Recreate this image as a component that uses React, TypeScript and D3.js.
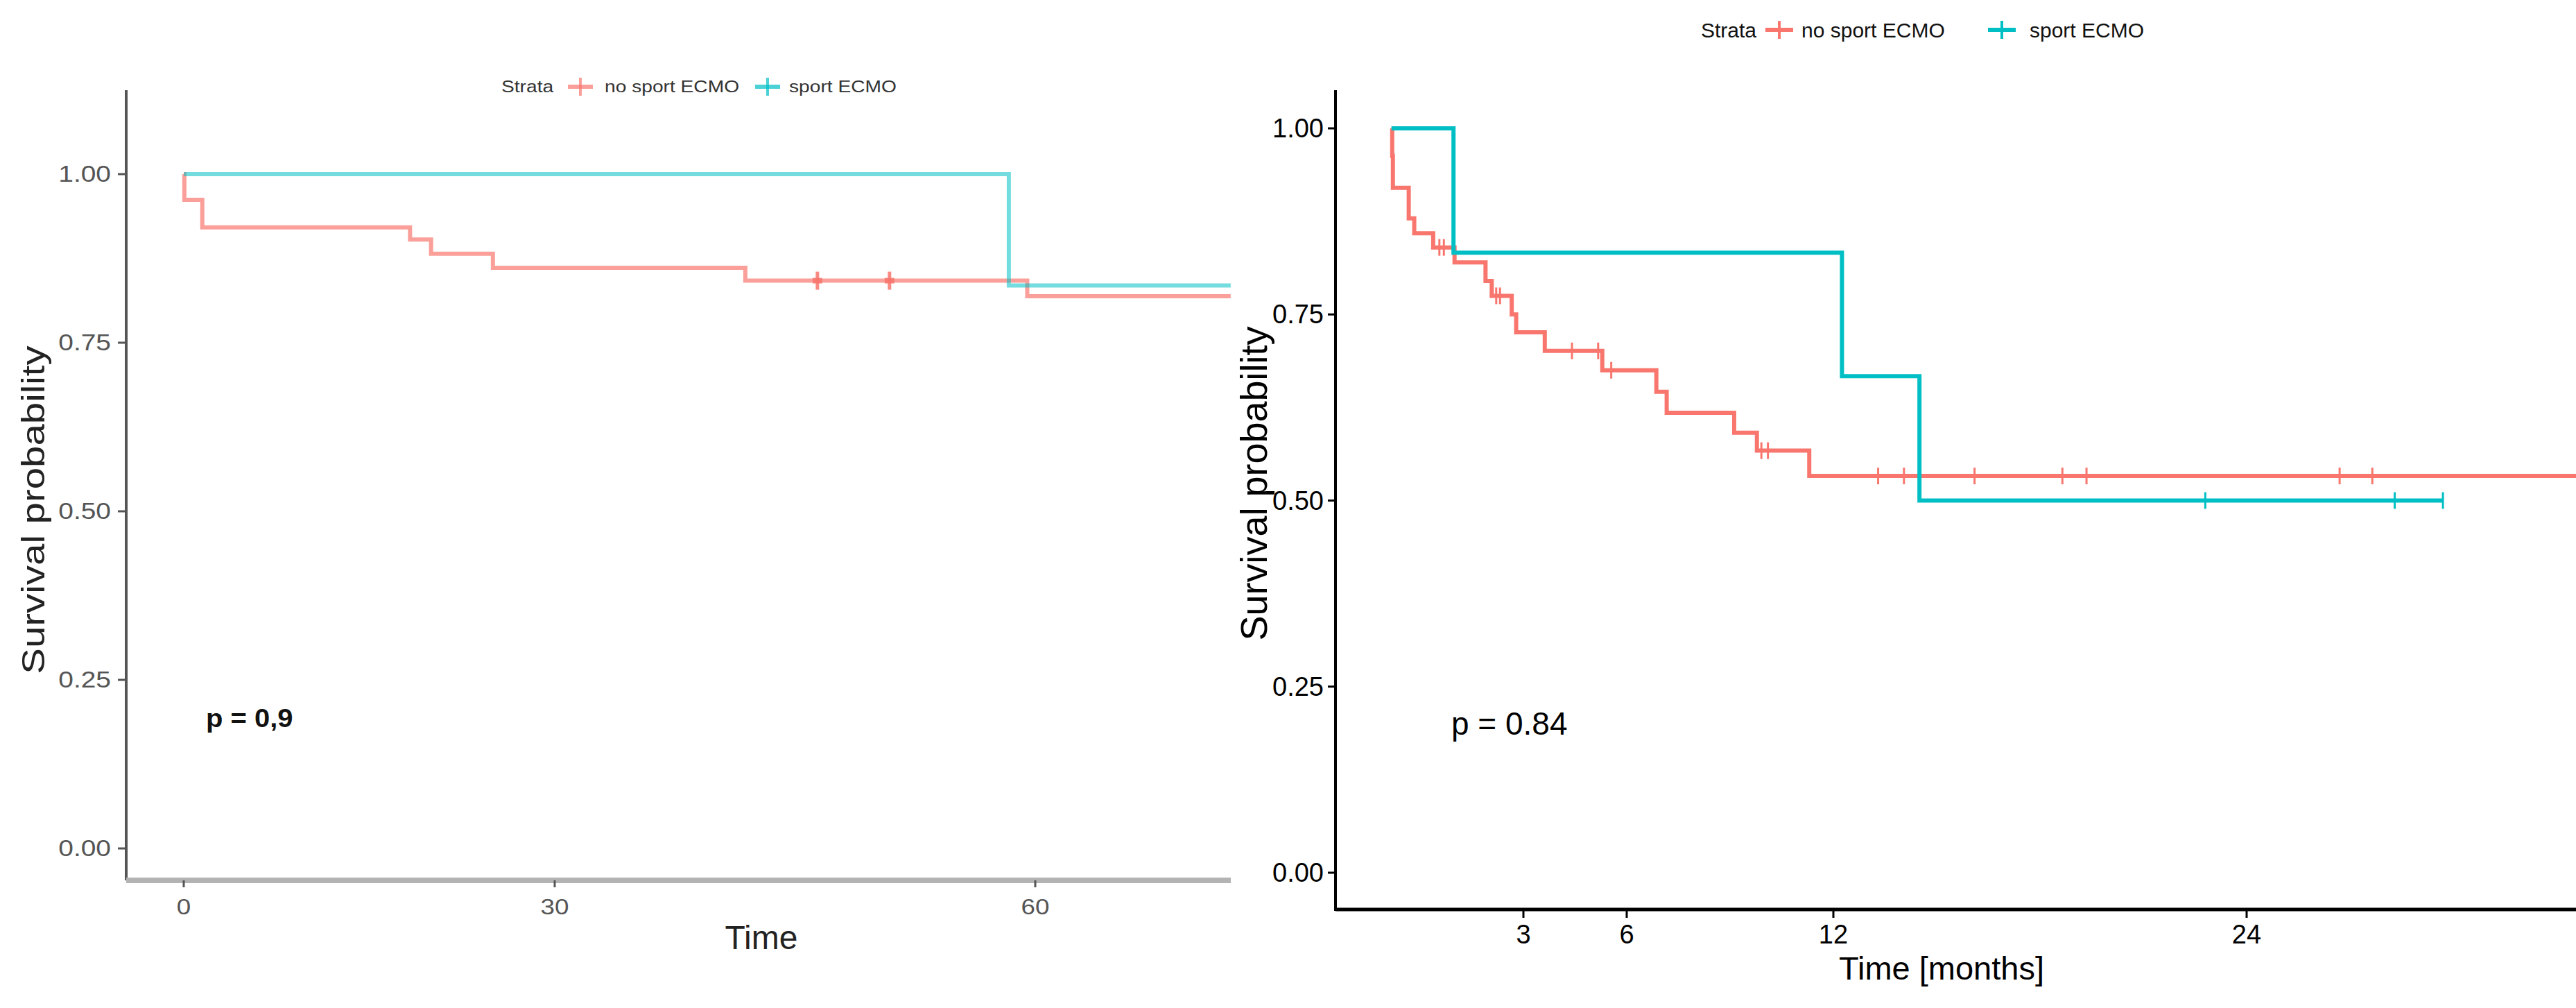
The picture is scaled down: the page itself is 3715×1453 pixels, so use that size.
import { useEffect, useRef } from 'react';
import * as d3 from 'd3';

const RED = '#F8766D';
const TEAL = '#00BFC4';

// left panel: time axis as printed (uneven tick spacing in the source)
const leftXTicks = [0, 30, 60];
const leftYTicks = [0, 0.25, 0.5, 0.75, 1];
const leftNoSportTimes = [0, 0.05, 1.5, 18.3, 20.0, 25.0, 41.9, 59.5, 72.2];
const leftNoSportSurv = [1, 0.962, 0.921, 0.903, 0.882, 0.861, 0.842, 0.819, 0.819];
const leftNoSportCensor = [46.4, 50.9];
const leftSportTimes = [0, 58.35, 72.2];
const leftSportSurv = [1, 0.835, 0.835];
const leftSportCensor: number[] = [];

// right panel: months (curves start a little left of the 0 month mark in the source)
const rightXTicks = [3, 6, 12, 24];
const rightYTicks = [0, 0.25, 0.5, 0.75, 1];
const rightNoSportTimes = [
  -0.83, -0.81, -0.79, -0.33, -0.17, 0.38, 1.0, 1.9, 2.08, 2.66, 2.79, 3.62,
  5.29, 6.86, 7.16, 9.12, 9.78, 11.3, 33.6,
];
const rightNoSportSurv = [
  1, 0.963, 0.92, 0.879, 0.859, 0.84, 0.82, 0.795, 0.775, 0.75, 0.726, 0.701,
  0.675, 0.646, 0.618, 0.591, 0.567, 0.533, 0.533,
];
const rightNoSportCensor = [
  0.56, 0.69, 2.21, 2.32, 4.41, 5.17, 5.55, 9.91, 10.1, 13.3, 14.05, 16.1,
  18.65, 19.35, 26.7, 27.65,
];
const rightSportTimes = [-0.83, 0.97, 12.25, 14.5, 29.7];
const rightSportSurv = [1, 0.833, 0.667, 0.5, 0.5];
const rightSportCensor = [22.8, 28.3, 29.7];

const strataLabels = ['no sport ECMO', 'sport ECMO'];

const FONT = '"Liberation Sans", Arial, Helvetica, sans-serif';

type Pt = { t: number; s: number };

function toPts(times: number[], surv: number[]): Pt[] {
  return times.map((t, i) => ({ t, s: surv[i] }));
}

function levelAt(times: number[], surv: number[], t: number) {
  const i = d3.bisectRight(times, t) - 1;
  return surv[Math.max(0, i)];
}

export default function App() {
  const ref = useRef<SVGSVGElement>(null);

  useEffect(() => {
    if (!ref.current) return;
    const svg = d3.select(ref.current);
    svg.selectAll('*').remove();

    const leg = (
      g: d3.Selection<SVGGElement, unknown, null, undefined>,
      y: number,
      xs: number[],
      opts: { size: number; sx: number; fill: string; alpha: number; half: number }
    ) => {
      const [xTitle, xKey1, xLab1, xKey2, xLab2] = xs;
      const txt = (x: number, s: string) =>
        g
          .append('text')
          .attr('transform', `translate(${x},${y}) scale(${opts.sx},1)`)
          .attr('dominant-baseline', 'central')
          .attr('font-size', opts.size)
          .attr('fill', opts.fill)
          .text(s);
      const key = (x: number, c: string) => {
        g.append('line')
          .attr('x1', x - opts.half).attr('x2', x + opts.half).attr('y1', y).attr('y2', y)
          .attr('stroke', c).attr('stroke-width', 6).attr('stroke-opacity', opts.alpha);
        g.append('line')
          .attr('x1', x).attr('x2', x).attr('y1', y - 13).attr('y2', y + 13)
          .attr('stroke', c).attr('stroke-width', 4).attr('stroke-opacity', opts.alpha);
      };
      txt(xTitle, 'Strata');
      key(xKey1, RED);
      txt(xLab1, strataLabels[0]);
      key(xKey2, TEAL);
      txt(xLab2, strataLabels[1]);
    };

    // ---------------- left panel ----------------
    const L = svg.append('g').attr('font-family', FONT);
    const lx = d3.scaleLinear().domain([0, 30, 60]).range([265, 800, 1493]);
    const ly = d3.scaleLinear().domain([0, 1]).range([1223, 251]);
    const lAxisX = 182;
    const lAxisY = 1269;

    leg(L, 125, [723, 837, 872, 1107, 1138], {
      size: 24.5, sx: 1.15, fill: '#333', alpha: 0.7, half: 18,
    });

    L.append('line')
      .attr('x1', lAxisX).attr('x2', lAxisX).attr('y1', 130).attr('y2', lAxisY)
      .attr('stroke', '#555').attr('stroke-width', 4);
    L.append('line')
      .attr('x1', lAxisX).attr('x2', 1775).attr('y1', lAxisY).attr('y2', lAxisY)
      .attr('stroke', '#b3b3b3').attr('stroke-width', 8);

    leftYTicks.forEach((v) => {
      L.append('line')
        .attr('x1', lAxisX - 12).attr('x2', lAxisX).attr('y1', ly(v)).attr('y2', ly(v))
        .attr('stroke', '#555').attr('stroke-width', 3);
      L.append('text')
        .attr('transform', `translate(160,${ly(v)}) scale(1.18,1)`)
        .attr('text-anchor', 'end')
        .attr('dominant-baseline', 'central')
        .attr('font-size', 33)
        .attr('fill', '#555')
        .text(d3.format('.2f')(v));
    });
    leftXTicks.forEach((v) => {
      L.append('line')
        .attr('x1', lx(v)).attr('x2', lx(v)).attr('y1', lAxisY).attr('y2', lAxisY + 10)
        .attr('stroke', '#555').attr('stroke-width', 3);
      L.append('text')
        .attr('transform', `translate(${lx(v)},1318) scale(1.15,1)`)
        .attr('text-anchor', 'middle')
        .attr('font-size', 32)
        .attr('fill', '#555')
        .text(v);
    });
    L.append('text')
      .attr('x', 1098).attr('y', 1368)
      .attr('text-anchor', 'middle')
      .attr('font-size', 48)
      .attr('fill', '#222')
      .text('Time');
    L.append('text')
      .attr('transform', 'translate(48,735) rotate(-90) scale(1.2,1)')
      .attr('text-anchor', 'middle')
      .attr('dominant-baseline', 'central')
      .attr('font-size', 47)
      .attr('fill', '#222')
      .text('Survival probability');
    L.append('text')
      .attr('transform', 'translate(297,1048) scale(1.08,1)')
      .attr('font-size', 37)
      .attr('font-weight', 'bold')
      .attr('fill', '#111')
      .text('p = 0,9');

    const lLine = d3
      .line<Pt>()
      .x((d) => lx(d.t))
      .y((d) => ly(d.s))
      .curve(d3.curveStepAfter);

    const leftCurves = [
      { times: leftNoSportTimes, surv: leftNoSportSurv, cens: leftNoSportCensor, c: RED, a: 0.7 },
      { times: leftSportTimes, surv: leftSportSurv, cens: leftSportCensor, c: TEAL, a: 0.55 },
    ];
    leftCurves.forEach((cv) => {
      L.append('path')
        .datum(toPts(cv.times, cv.surv))
        .attr('fill', 'none')
        .attr('stroke', cv.c)
        .attr('stroke-opacity', cv.a)
        .attr('stroke-width', 6)
        .attr('d', lLine);
      cv.cens.forEach((t) => {
        const x = lx(t);
        const y = ly(levelAt(cv.times, cv.surv, t));
        L.append('line')
          .attr('x1', x).attr('x2', x).attr('y1', y - 13).attr('y2', y + 13)
          .attr('stroke', cv.c).attr('stroke-width', 5).attr('stroke-opacity', 0.85);
        L.append('line')
          .attr('x1', x - 7).attr('x2', x + 7).attr('y1', y).attr('y2', y)
          .attr('stroke', cv.c).attr('stroke-width', 8).attr('stroke-opacity', 0.85);
      });
    });

    // ---------------- right panel ----------------
    const R = svg.append('g').attr('font-family', FONT);
    const rx = d3.scaleLinear().domain([0, 24]).range([2048, 3240]);
    const ry = d3.scaleLinear().domain([0, 1]).range([1258, 185]);
    const rAxisX = 1926;
    const rAxisY = 1311;

    leg(R, 43, [2453, 2566, 2598, 2887, 2927], {
      size: 30, sx: 1, fill: '#111', alpha: 1, half: 20,
    });

    R.append('line')
      .attr('x1', rAxisX).attr('x2', rAxisX).attr('y1', 130).attr('y2', rAxisY + 2)
      .attr('stroke', '#000').attr('stroke-width', 4);
    R.append('line')
      .attr('x1', rAxisX).attr('x2', 3715).attr('y1', rAxisY).attr('y2', rAxisY)
      .attr('stroke', '#000').attr('stroke-width', 5);

    rightYTicks.forEach((v) => {
      R.append('line')
        .attr('x1', rAxisX - 11).attr('x2', rAxisX).attr('y1', ry(v)).attr('y2', ry(v))
        .attr('stroke', '#000').attr('stroke-width', 3);
      R.append('text')
        .attr('x', 1909).attr('y', ry(v))
        .attr('text-anchor', 'end')
        .attr('dominant-baseline', 'central')
        .attr('font-size', 38)
        .attr('fill', '#000')
        .text(d3.format('.2f')(v));
    });
    rightXTicks.forEach((v) => {
      R.append('line')
        .attr('x1', rx(v)).attr('x2', rx(v)).attr('y1', rAxisY).attr('y2', rAxisY + 12)
        .attr('stroke', '#000').attr('stroke-width', 3);
      R.append('text')
        .attr('x', rx(v)).attr('y', 1360)
        .attr('text-anchor', 'middle')
        .attr('font-size', 38)
        .attr('fill', '#000')
        .text(v);
    });
    R.append('text')
      .attr('x', 2800).attr('y', 1412)
      .attr('text-anchor', 'middle')
      .attr('font-size', 47)
      .attr('fill', '#000')
      .text('Time [months]');
    R.append('text')
      .attr('transform', 'translate(1808,697) rotate(-90)')
      .attr('text-anchor', 'middle')
      .attr('dominant-baseline', 'central')
      .attr('font-size', 54)
      .attr('fill', '#000')
      .text('Survival probability');
    R.append('text')
      .attr('x', 2093).attr('y', 1059)
      .attr('font-size', 46)
      .attr('fill', '#000')
      .text('p = 0.84');

    const rLine = d3
      .line<Pt>()
      .x((d) => rx(d.t))
      .y((d) => ry(d.s))
      .curve(d3.curveStepAfter);

    const rightCurves = [
      { times: rightNoSportTimes, surv: rightNoSportSurv, cens: rightNoSportCensor, c: RED },
      { times: rightSportTimes, surv: rightSportSurv, cens: rightSportCensor, c: TEAL },
    ];
    rightCurves.forEach((cv) => {
      R.append('path')
        .datum(toPts(cv.times, cv.surv))
        .attr('fill', 'none')
        .attr('stroke', cv.c)
        .attr('stroke-width', 6)
        .attr('d', rLine);
      cv.cens.forEach((t) => {
        const x = rx(t);
        const y = ry(levelAt(cv.times, cv.surv, t));
        R.append('line')
          .attr('x1', x).attr('x2', x).attr('y1', y - 12).attr('y2', y + 12)
          .attr('stroke', cv.c).attr('stroke-width', 3);
      });
    });
  }, []);

  return (
    <svg
      ref={ref}
      width={3715}
      height={1453}
      style={{ position: 'absolute', left: 0, top: 0, background: '#fff' }}
    />
  );
}
